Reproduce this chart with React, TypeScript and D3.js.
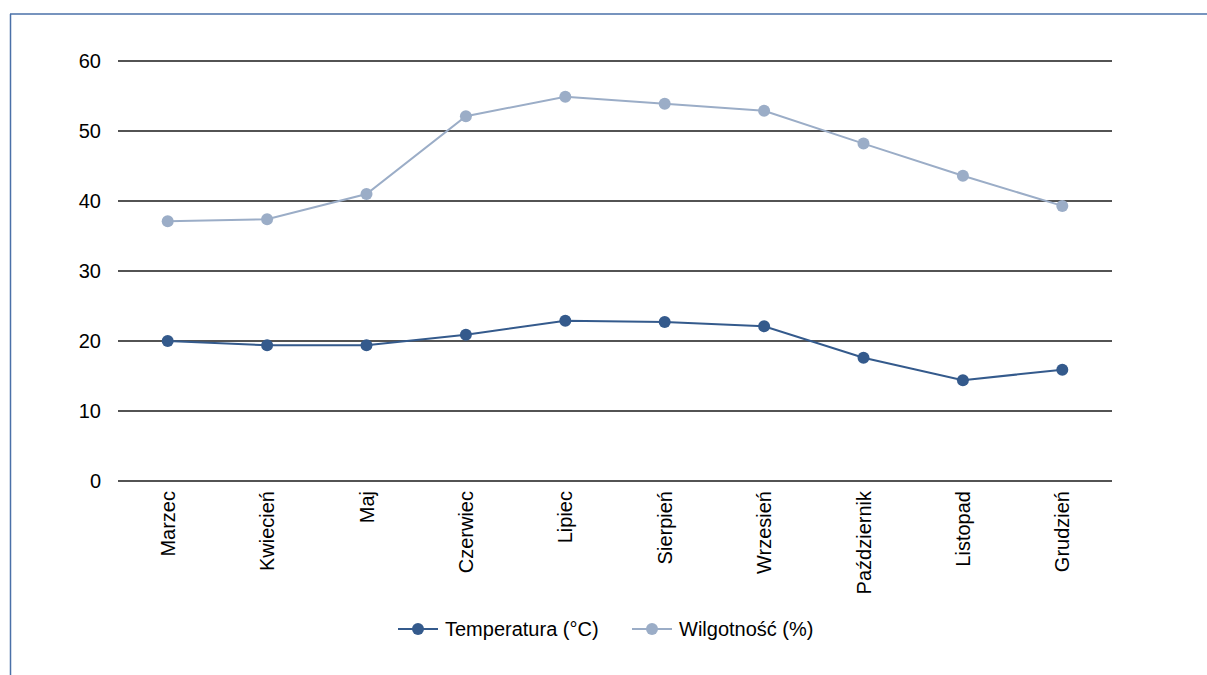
import React from "react";
import * as d3 from "d3";

const categories = ["Marzec", "Kwiecień", "Maj", "Czerwiec", "Lipiec", "Sierpień", "Wrzesień", "Październik", "Listopad", "Grudzień"];
const temperature = [20.0, 19.4, 19.4, 20.9, 22.9, 22.7, 22.1, 17.6, 14.4, 15.9];
const humidity = [37.1, 37.4, 41.0, 52.1, 54.9, 53.9, 52.9, 48.2, 43.6, 39.3];
const yTicks = [0, 10, 20, 30, 40, 50, 60];
const seriesNames = ["Temperatura (°C)", "Wilgotność (%)"];

const W = 1207, H = 675;
const left = 118, right = 1112, top = 61, bottom = 481;
const darkColor = "#345a8c";
const lightColor = "#9badc7";
const font = "'Liberation Sans', Arial, sans-serif";
const fs = 20;

export default function App() {
  const x = d3.scaleBand<string>().domain(categories).range([left, right]).padding(0);
  const y = d3.scaleLinear().domain([0, 60]).range([bottom, top]);
  const cx = (c: string) => (x(c) as number) + x.bandwidth() / 2;
  const line = d3.line<number>().x((_, i) => cx(categories[i])).y((d) => y(d));
  const series = [
    { name: seriesNames[0], values: temperature, color: darkColor },
    { name: seriesNames[1], values: humidity, color: lightColor },
  ];
  const legendX = [398, 632];
  const legendY = 629;
  return (
    <svg width={W} height={H} style={{ position: "absolute", left: 0, top: 0 }} fontFamily={font}>
      <rect x={0} y={0} width={W} height={H} fill="#fff" />
      <line x1={10} x2={W} y1={14} y2={14} stroke="#4a70a8" strokeWidth={1.5} />
      <line x1={10.5} x2={10.5} y1={14} y2={H} stroke="#4a70a8" strokeWidth={1.5} />
      {yTicks.map((t) => (
        <g key={t}>
          <line x1={left} x2={right} y1={y(t)} y2={y(t)} stroke="#1a1a1a" strokeWidth={1.5} />
          <text x={101} y={y(t)} dy="0.35em" textAnchor="end" fontSize={fs} fill="#000">{t}</text>
        </g>
      ))}
      {categories.map((c) => (
        <text key={c} transform={`translate(${cx(c)},${bottom + 10}) rotate(-90)`} textAnchor="end" dy="0.35em" fontSize={fs} fill="#000">{c}</text>
      ))}
      {series.map((s) => (
        <g key={s.name}>
          <path d={line(s.values) || ""} fill="none" stroke={s.color} strokeWidth={2} />
          {s.values.map((v, i) => (
            <circle key={i} cx={cx(categories[i])} cy={y(v)} r={6} fill={s.color} />
          ))}
        </g>
      ))}
      {series.map((s, i) => (
        <g key={s.name} transform={`translate(${legendX[i]},${legendY})`}>
          <line x1={0} x2={40} y1={0} y2={0} stroke={s.color} strokeWidth={2} />
          <circle cx={20} cy={0} r={6} fill={s.color} />
          <text x={47} y={0} dy="0.35em" fontSize={fs} fill="#000">{s.name}</text>
        </g>
      ))}
    </svg>
  );
}
